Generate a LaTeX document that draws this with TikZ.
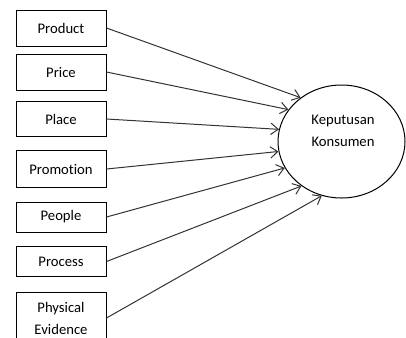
\documentclass[tikz,border=0pt]{standalone}
\usepackage{fontspec}
\setmainfont[Ligatures=NoCommon]{Carlito}
\usetikzlibrary{shapes.geometric,arrows.meta}

\begin{document}
\begin{tikzpicture}[x=0.75pt,y=-0.75pt,
    every node/.style={font=\fontsize{11pt}{16.5pt}\selectfont},
    faktor/.style={draw,line width=0.75pt,minimum width=67.5pt,minimum height=27pt,inner sep=0pt,align=center},
    panah/.style={draw=black!80,line width=0.75pt,-{Straight Barb[length=5.5pt,width=8.5pt]}}]
    \clip (0,0) rectangle (406,337);
    \useasboundingbox (0,0) rectangle (406,337);
    % % the seven 7P boxes on the left
    \node[faktor] (product) at (61,28) {Product};
    \node[faktor] (price) at (61,72) {Price};
    \node[faktor,minimum height=26pt] (place) at (61,119) {Place};
    \node[faktor,minimum height=27.5pt] (promotion) at (61,169) {Promotion};
    \node[faktor,minimum height=22.5pt] (people) at (61,217) {People};
    \node[faktor,minimum height=23pt] (process) at (61,261.5) {Process};
    \node[faktor,minimum height=39pt] (physical) at (61,318) {Physical\\Evidence};
    % % decision ellipse
    \node[ellipse,draw,line width=0.75pt,minimum width=95.25pt,minimum height=84.75pt,inner sep=0pt] (kons) at (341.5,141.5) {};
    \node[align=center] (konslabel) at (343,131) {Keputusan\\Konsumen};
    % % arrows into the ellipse
    \draw[panah] (product.east) -- (kons.133);
    \draw[panah] (price.east) -- (kons.149);
    \draw[panah] (place.east) -- (kons.169);
    \draw[panah] (promotion.east) -- (kons.189);
    \draw[panah] (people.east) -- (kons.205);
    \draw[panah] (process.east) -- (kons.228);
    \draw[panah] (physical.east) -- (kons.250);
\end{tikzpicture}
\end{document}
